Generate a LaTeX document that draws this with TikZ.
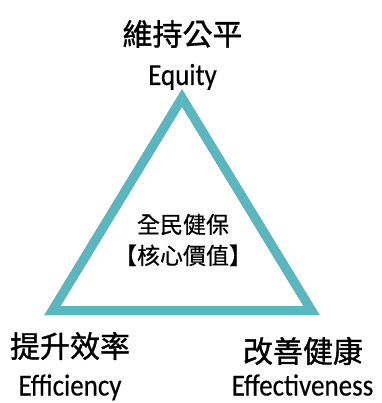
\documentclass[tikz,border=0pt]{standalone}
\usepackage{fontspec}
\setmainfont{Carlito}[FakeBold=0.4]
\newfontfamily\cjk[FakeBold=1.2]{Noto Sans CJK TC}
\newfontfamily\cjkcore[FakeBold=0.6]{Noto Sans CJK TC}
\definecolor{teal1}{HTML}{5AB6BF}
\newcommand{\tallen}[1]{\scalebox{1}[1.13]{#1}}
\begin{document}
\begin{tikzpicture}[x=1pt,y=-1pt,
  cjklabel/.style={font=\cjk\fontsize{30}{30}\selectfont, inner sep=0pt, anchor=center},
  enlabel/.style={font=\fontsize{27}{27}\selectfont, inner sep=0pt, anchor=base},
  core/.style={font=\cjkcore\fontsize{23}{31}\selectfont, inner sep=0pt, align=center, anchor=center},
  edge/.style={draw=teal1, line width=9pt, line join=miter}]
\useasboundingbox (0,0) rectangle (381,403);
\coordinate (A) at (182,98);
\coordinate (L) at (52.5,310.5);
\coordinate (R) at (311.5,310.5);
% soft shadow
\foreach \d/\o in {1/0.14,2/0.12,3/0.10,4/0.08,5/0.05,6/0.03}{
  \draw[black, opacity=\o, line width=9pt, line join=miter, shift={(\d,\d)}] (A) -- (L) -- (R) -- cycle;
}
\draw[edge] (A) -- (L) -- (R) -- cycle;
\node[cjklabel] (t1) at (182.5,34) {維持公平};
\node[enlabel] (e1) at (182.5,85) {\tallen{Equity}};
\node[core] (c) at (183,240) {全民健保\\【核心價值】};
\node[cjklabel] (t2) at (70,346) {提升效率};
\node[enlabel] (e2) at (70,395.5) {\tallen{Efficiency}};
\node[cjklabel] (t3) at (303,351) {改善健康};
\node[enlabel] (e3) at (302.5,395.5) {\tallen{Effectiveness}};
\end{tikzpicture}
\end{document}
